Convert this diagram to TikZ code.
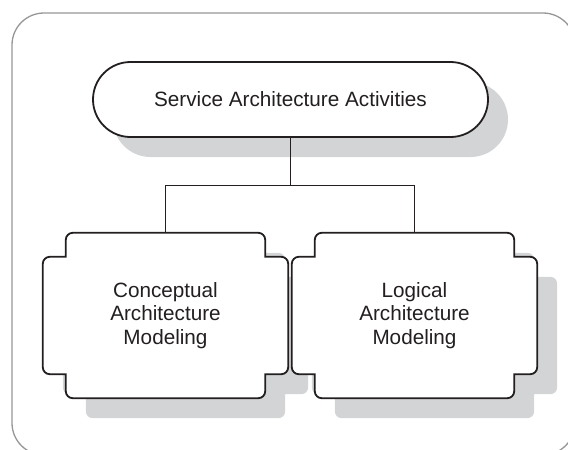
\documentclass[tikz,border=0pt]{standalone}
\usepackage{fontspec}
\setmainfont{Liberation Sans}
\usetikzlibrary{calc,shadows}
\pgfdeclarelayer{background}
\pgfsetlayers{background,main}
\definecolor{shadowgray}{RGB}{211,212,214}
\definecolor{framegray}{RGB}{150,150,150}
\definecolor{inkblack}{RGB}{35,31,32}

% notched outline round a node, drawn behind it
\newcommand{\notchoutline}[1]{%
  \draw[outline] (#1.north) [rounded corners=7pt]
    -- ($(#1.north east)+(-23,0)$) [sharp corners]
    -- ($(#1.north east)+(-23,24)$) [rounded corners=7pt]
    -- ($(#1.north east)+(0,24)$) -- ($(#1.south east)+(0,-24)$) [sharp corners]
    -- ($(#1.south east)+(-23,-24)$) [rounded corners=7pt]
    -- ($(#1.south east)+(-23,0)$) -- ($(#1.south west)+(23,0)$) [sharp corners]
    -- ($(#1.south west)+(23,-24)$) [rounded corners=7pt]
    -- ($(#1.south west)+(0,-24)$) -- ($(#1.north west)+(0,24)$) [sharp corners]
    -- ($(#1.north west)+(23,24)$) [rounded corners=7pt]
    -- ($(#1.north west)+(23,0)$) -- cycle;}

\begin{document}
\begin{tikzpicture}[x=1pt,y=-1pt,
    boxshadow/.style={drop shadow={shadow xshift=20pt,shadow yshift=-20pt,fill=shadowgray,opacity=1}},
    txt/.style={font=\fontsize{20.7}{23.3}\selectfont,text=inkblack},
    topbox/.style={txt,draw=inkblack,line width=1.8pt,fill=white,rounded corners=37.5pt,
        minimum width=395pt,minimum height=75pt,inner sep=0pt,boxshadow},
    modbox/.style={txt,minimum width=245pt,minimum height=165pt,align=center,inner sep=0pt},
    outline/.style={draw=inkblack,line width=1.8pt,fill=white,boxshadow},
    link/.style={draw=inkblack,line width=1.7pt}]
    \useasboundingbox (0,0) rectangle (568,450);
    \clip (0,0) rectangle (568,450);

    \node[topbox] (saa) at (290.5,99.5) {Service Architecture Activities};

    \node[modbox] (cam) at ($ (saa) + (-125,216) $) {Conceptual\\Architecture\\Modeling};
    \node[modbox] (lam) at ($ (cam) + (249,0) $) {Logical\\Architecture\\Modeling};

    \begin{pgfonlayer}{background}
        \draw[framegray,line width=1.3pt,rounded corners=32pt] (12,13) rectangle (575,455);
        \notchoutline{cam}
        \notchoutline{lam}
    \end{pgfonlayer}

    \coordinate (fork) at ($ (saa.south)!0.5!(saa.south |- cam.north) $);
    \draw[link] (saa.south) -- (fork) -| (cam.north);
    \draw[link] (fork) -| (lam.north);
\end{tikzpicture}
\end{document}
